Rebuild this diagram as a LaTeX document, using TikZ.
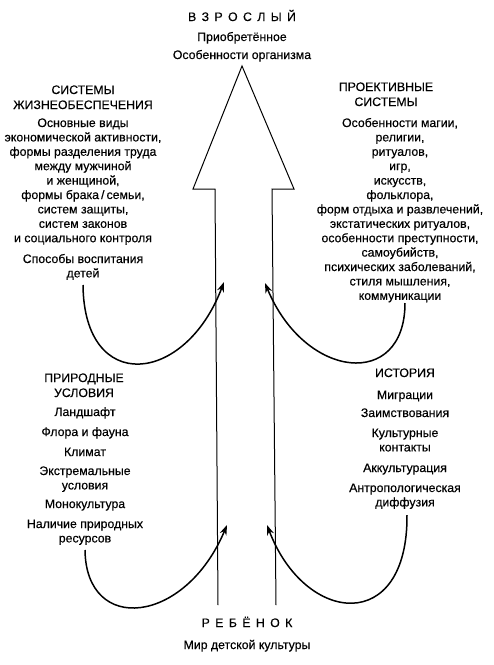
\documentclass[tikz,border=0pt]{standalone}
\usepackage{fontspec}
\setmainfont{Liberation Sans}[FakeBold=0.35]
\usetikzlibrary{arrows.meta}
\newcommand{\gapL}{\hspace{5.4pt}}
\tikzset{
  txt/.style={font=\fontsize{12.3}{14.4}\selectfont, align=center, inner sep=0pt, anchor=base},
  head/.style={txt, font=\fontsize{12.3}{15}\selectfont},
  flow/.style={line width=1.5pt, -{Stealth[length=10pt,width=7pt]}},
  big/.style={line width=1pt, line join=miter}
}
\begin{document}
\begin{tikzpicture}[x=1pt,y=-1pt]
\useasboundingbox (0,0) rectangle (494,665);
% big arrow
\coordinate (bl) at (218,605);
\coordinate (br) at (276,605);
\coordinate (tip) at (242,66);
\draw[big] (bl) -- (215,189) -- (193,189) -- (tip) -- (294,189) -- (272,189) -- (br);
% top (anchor = baseline of the last line)
\node[txt] (adult) at (242,21) {В\gapL З\gapL Р\gapL О\gapL С\gapL Л\gapL Ы\gapL Й};
\node[txt] (acq) at (242,41) {Приобретённое};
\node[txt] (org) at (242,59) {Особенности организма};
% left upper
\node[head] (lsh) at (83,109) {СИСТЕМЫ\\ЖИЗНЕОБЕСПЕЧЕНИЯ};
\node[txt] (lsb) at (83,242.2) {Основные виды\\экономической активности,\\формы разделения труда\\между мужчиной\\и женщиной,\\формы брака\,/\,семьи,\\систем защиты,\\систем законов\\и социального контроля};
\node[txt] (lsc) at (83,277.4) {Способы воспитания\\детей};
% right upper
\node[head] (rsh) at (386,106) {ПРОЕКТИВНЫЕ\\СИСТЕМЫ};
\node[txt] (rsb) at (400,299.8) {Особенности магии,\\религии,\\ритуалов,\\игр,\\искусств,\\фольклора,\\форм отдыха и развлечений,\\экстатических ритуалов,\\особенности преступности,\\самоубийств,\\психических заболеваний,\\стиля мышления,\\коммуникации};
% left lower
\node[head] (llh) at (84,397) {ПРИРОДНЫЕ\\УСЛОВИЯ};
\node[txt] (ll1) at (85,416) {Ландшафт};
\node[txt] (ll2) at (85,436) {Флора и фауна};
\node[txt] (ll3) at (85,456) {Климат};
\node[txt] (ll4) at (85,489.4) {Экстремальные\\условия};
\node[txt] (ll5) at (85,508) {Монокультура};
\node[txt] (ll6) at (85,542.4) {Наличие природных\\ресурсов};
% right lower
\node[txt] (rlh) at (405,377) {ИСТОРИЯ};
\node[txt] (rl1) at (405,399) {Миграции};
\node[txt] (rl2) at (405,417) {Заимствования};
\node[txt] (rl3) at (405,451.4) {Культурные\\контакты};
\node[txt] (rl4) at (405,472) {Аккультурация};
\node[txt] (rl5) at (405,506.4) {Антропологическая\\диффузия};
% bottom
\node[txt] (child) at (247,627) {Р\gapL Е\gapL Б\gapL Ё\gapL Н\gapL О\gapL К};
\node[txt] (childw) at (247,649) {Мир детской культуры};
% curves
\coordinate (s1) at (83,285);  \coordinate (e1) at (224,282);
\coordinate (s2) at (85,550);  \coordinate (e2) at (227,525);
\coordinate (s3) at (405,303); \coordinate (e3) at (265,283);
\coordinate (s4) at (407,515); \coordinate (e4) at (267,525);
\draw[flow] (s1) .. controls (84,395) and (185,385) .. (e1);
\draw[flow] (s2) .. controls (86,635) and (185,625) .. (e2);
\draw[flow] (s3) .. controls (405,390) and (305,380) .. (e3);
\draw[flow] (s4) .. controls (408,635) and (305,625) .. (e4);
\end{tikzpicture}
\end{document}
